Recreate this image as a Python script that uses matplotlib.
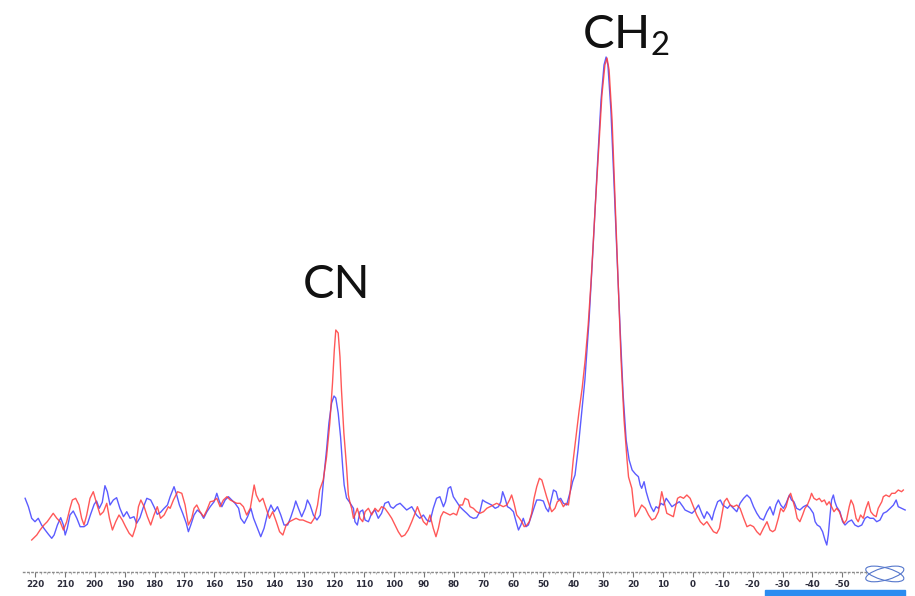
import matplotlib
matplotlib.use("Agg")
import matplotlib.pyplot as plt
from matplotlib.patches import Ellipse, Rectangle

# ---- data (ppm, intensity in arbitrary units) ----
blue_ppm = [223.3, 222.2, 221.1, 220.0, 218.9, 217.8, 216.6, 215.5, 214.4, 213.6, 212.5, 211.4, 210.5, 209.9, 209.2,
            208.3, 207.2, 206.0, 204.9, 203.6, 202.5, 201.4, 200.2, 199.4, 198.5, 197.5, 196.6, 195.8, 194.9, 193.8,
            192.7, 191.6, 190.4, 189.3, 188.2, 186.9, 186.0, 184.9, 183.7, 182.6, 181.3, 180.2, 179.1, 178.0, 176.8,
            175.7, 174.8, 173.5, 172.6, 171.7, 170.6, 169.4, 168.7, 167.9, 166.8, 165.7, 164.5, 163.6, 162.5, 161.4,
            160.1, 159.2, 158.3, 157.5, 156.4, 155.3, 154.2, 153.1, 151.9, 151.2, 150.0, 148.9, 147.8, 146.9, 145.6,
            144.5, 143.4, 142.2, 141.1, 140.0, 138.9, 137.8, 136.7, 135.5, 134.4, 133.3, 132.8, 131.9, 130.8, 129.6,
            128.9, 128.0, 126.9, 125.7, 124.6, 124.2, 123.4, 122.5, 121.7, 120.8, 120.0, 119.4, 118.6, 117.8, 117.1,
            116.6, 115.8, 114.9, 113.5, 113.0, 112.2, 111.3, 110.4, 109.6, 108.5, 107.4, 106.3, 105.2, 104.1, 103.0,
            101.8, 101.1, 100.2, 99.1, 97.9, 96.8, 95.7, 94.0, 92.4, 91.3, 90.1, 89.0, 87.9, 86.8, 85.7,
            84.6, 83.4, 82.7, 81.8, 81.0, 80.1, 79.0, 77.9, 76.8, 75.6, 74.5, 73.4, 72.3, 71.2, 70.3,
            69.5, 68.4, 67.3, 66.1, 65.0, 64.2, 63.6, 62.8, 62.0, 61.1, 60.0, 59.1, 58.3, 57.5, 56.7,
            55.8, 55.0, 53.9, 52.8, 52.2, 51.1, 50.0, 49.1, 48.3, 47.5, 46.6, 45.7, 45.0, 44.2, 43.3,
            42.2, 41.3, 40.7, 40.2, 39.4, 38.4, 37.4, 36.1, 34.7, 33.4, 32.0, 30.7, 29.7, 29.0, 28.4,
            27.4, 26.4, 25.3, 24.3, 23.3, 22.3, 21.3, 20.3, 19.2, 18.2, 17.6, 17.1, 16.3, 15.6, 14.8,
            14.0, 13.1, 12.3, 11.5, 10.7, 9.8, 8.9, 8.1, 7.0, 6.2, 5.3, 4.5, 3.3, 2.6, 1.4,
            0.3, -0.8, -1.9, -3.0, -3.8, -4.7, -5.6, -6.4, -7.1, -8.3, -9.2, -10.0, -10.8, -11.6, -12.5,
            -13.6, -14.7, -15.8, -17.0, -18.1, -19.2, -20.3, -21.4, -22.5, -23.6, -24.8, -25.8, -26.9, -27.8, -28.6,
            -29.4, -30.3, -31.2, -32.3, -33.0, -33.8, -34.7, -35.8, -37.0, -38.1, -39.2, -40.3, -40.9, -41.6, -42.5,
            -43.4, -44.2, -44.8, -45.3, -45.9, -46.4, -47.0, -47.5, -48.1, -49.2, -50.1, -50.9, -52.0, -53.1, -54.2,
            -55.3, -56.5, -57.6, -58.4, -59.3, -60.4, -61.5, -62.6, -63.7, -64.8, -66.0, -67.1, -68.0, -68.7, -69.8,
            -71.0]
blue_int = [61.7, 53.3, 41.7, 38.3, 41.7, 35, 30, 25.7, 21.7, 25, 35, 42.3, 35, 25, 31.7,
            45, 49, 41.7, 33.3, 33.3, 35.7, 45.7, 55.7, 59, 51.7, 57.7, 74.3, 68.3, 55, 60,
            62.3, 51.7, 43.3, 48.3, 41.7, 43.3, 36.7, 42.3, 53.3, 61.7, 60, 53.3, 45.7, 47.7, 51.7,
            55, 63.3, 73.3, 65, 55, 46.7, 36.7, 28.3, 35, 45, 50, 46.7, 41.7, 48.3, 53.3,
            58.3, 66.7, 58.3, 53.3, 60, 63.3, 60, 56.7, 51.7, 41.7, 36.7, 43.3, 51.7, 41.7, 31.7,
            23.3, 31.7, 46.7, 55, 48.3, 53.3, 45, 35, 35, 43.3, 53.3, 59, 51.7, 43.3, 51.7,
            60, 55, 45, 40, 45, 56.7, 83.3, 110, 137, 157, 164, 162, 147, 123, 93,
            75, 62, 58.3, 51.7, 38.3, 35, 48.3, 50, 40, 38.3, 46.7, 50, 41.7, 46.7, 56.7,
            58.3, 53.3, 51.7, 55, 56.7, 53.3, 50, 53.3, 45, 41.7, 45, 40, 38.3, 51.7, 61.7,
            63.3, 53.3, 58.3, 71.7, 73.3, 63.3, 58.3, 53.3, 50, 46.7, 43.3, 41.7, 42.3, 48.3, 60,
            58.3, 56.7, 55, 51.7, 53.3, 58.3, 68.3, 61.7, 53.3, 51.7, 48.3, 38.3, 30, 35, 41.7,
            33.3, 35, 45, 55, 60, 60, 59, 51.7, 48.3, 58.3, 70, 68.3, 60, 61.7, 56.7,
            55, 65, 71.7, 78.3, 85, 110, 140, 180, 240, 310, 390, 460, 495, 503, 495,
            450, 380, 300, 230, 165, 120, 100, 90, 86, 83.3, 75, 71.7, 78.3, 68.3, 60,
            53.3, 48.3, 53.3, 51.7, 56.7, 55, 61.7, 58.3, 53.3, 55, 56.7, 58.3, 53.3, 50, 48.3,
            46.7, 50, 55, 46.7, 41.7, 48.3, 45, 40, 48.3, 58.3, 60, 55, 53.3, 51.7, 55,
            51.7, 48.3, 56.7, 61.7, 65, 61.7, 53.3, 46.7, 41.7, 40, 48.3, 53.3, 45, 55, 60,
            55, 51.7, 56.7, 65, 60, 58.3, 51.7, 50, 53.3, 55, 51.7, 46.7, 38.3, 35, 33.3,
            28.3, 20, 15, 25, 45, 60, 65, 58.3, 53.3, 48.3, 38.3, 35, 38.3, 40, 35,
            33.3, 35, 41.7, 43.3, 41.7, 41.7, 38.3, 40, 46.7, 48.3, 51.7, 55, 60, 53.3, 51.7,
            50]

red_ppm = [221.1, 219.4, 218.3, 217.0, 215.9, 214.7, 213.9, 212.7, 211.6, 210.5, 209.4, 208.3, 207.5, 206.4, 205.3,
           204.4, 203.6, 202.7, 201.6, 200.5, 199.4, 198.2, 197.1, 196.0, 195.1, 194.1, 193.0, 191.9, 190.8, 189.7,
           188.5, 187.4, 186.3, 185.4, 184.6, 183.5, 182.4, 181.3, 180.2, 179.1, 178.0, 176.8, 175.4, 174.8, 173.7,
           172.3, 170.9, 169.8, 168.7, 167.6, 166.8, 165.9, 164.8, 163.6, 162.5, 161.4, 160.3, 159.2, 158.1, 157.0,
           155.8, 154.7, 153.6, 152.5, 151.4, 150.3, 149.2, 148.0, 147.1, 146.7, 146.0, 144.9, 143.8, 142.7, 141.6,
           140.5, 139.3, 138.2, 137.1, 136.0, 134.9, 133.8, 132.7, 131.5, 130.4, 129.1, 127.7, 126.6, 125.5, 124.8,
           123.6, 122.5, 121.4, 120.5, 119.9, 119.4, 118.6, 118.0, 117.5, 116.7, 115.8, 115.2, 114.7, 114.1, 113.5,
           113.0, 112.2, 111.3, 110.4, 109.6, 108.5, 107.4, 106.3, 105.2, 104.1, 103.0, 101.8, 100.7, 99.6, 98.5,
           97.4, 96.3, 95.2, 94.0, 92.9, 92.1, 91.3, 90.1, 89.0, 87.9, 86.8, 85.9, 85.1, 84.3, 83.4,
           82.3, 81.2, 80.1, 79.0, 77.9, 77.0, 76.2, 75.1, 74.5, 73.4, 72.3, 71.2, 70.0, 68.9, 67.8,
           66.7, 65.6, 64.5, 63.4, 62.2, 61.3, 60.6, 59.8, 58.9, 58.0, 57.2, 56.4, 55.5, 54.7, 53.9,
           53.1, 52.2, 51.3, 50.5, 49.7, 48.9, 48.0, 47.2, 46.1, 45.3, 44.4, 43.3, 42.4, 41.6, 41.0,
           40.7, 40.0, 39.0, 38.0, 37.0, 36.0, 35.0, 34.0, 32.7, 31.3, 30.4, 29.4, 28.7, 28.0, 27.0,
           26.0, 25.0, 24.0, 23.0, 22.0, 21.5, 20.4, 19.8, 19.3, 18.2, 17.1, 15.9, 14.8, 13.7, 12.6,
           11.5, 10.4, 9.6, 8.7, 7.6, 6.5, 5.9, 5.1, 4.2, 3.1, 2.0, 0.9, -0.2, -1.3, -2.5,
           -3.6, -4.7, -5.8, -6.9, -8.0, -8.9, -9.7, -10.5, -11.4, -12.5, -13.6, -14.7, -15.8, -17.0, -18.1,
           -19.2, -20.3, -21.4, -22.5, -23.6, -24.8, -25.8, -26.7, -27.5, -28.6, -29.4, -30.3, -31.2, -31.9, -32.7,
           -33.4, -34.2, -34.9, -35.8, -36.7, -37.5, -38.3, -39.2, -39.7, -40.5, -41.4, -42.3, -43.1, -44.0, -44.8,
           -45.6, -46.4, -47.2, -48.1, -49.0, -49.8, -50.6, -51.4, -52.3, -52.9, -53.7, -54.6, -55.3, -56.1, -57.0,
           -57.9, -58.7, -59.5, -60.4, -61.3, -62.0, -63.2, -63.7, -64.6, -65.7, -66.5, -67.6, -68.7, -69.8, -70.4]
red_int = [20, 25, 30, 35, 38.3, 43.3, 46.7, 41.7, 38.3, 30, 38.3, 51.7, 60, 61.7, 55,
           41.7, 35, 45, 61.7, 68.3, 56.7, 45, 48.3, 56.7, 41.7, 30, 38.3, 45, 40, 33.3,
           26.7, 23.3, 33.3, 53.3, 60, 53.3, 43.3, 35, 45, 53.3, 41.7, 45, 53.3, 51.7, 60,
           68.3, 66.7, 55, 35, 41.7, 51.7, 55, 48.3, 43.3, 50, 58.3, 59, 61.7, 53.3, 60,
           63.3, 60, 58.3, 56.7, 56.7, 53.3, 45, 51.7, 68.3, 75, 65, 58.3, 61.7, 51.7, 41.7,
           48.3, 38.3, 28.3, 25, 35, 38.3, 40, 41.7, 40, 40, 38.3, 36.7, 41.7, 55, 70,
           80, 103, 137, 177, 210, 230, 227, 203, 170, 127, 93, 65, 58, 51.7, 41.7,
           45, 51.7, 41.7, 38.3, 48.3, 51.7, 45, 51.7, 48.3, 53.3, 51.7, 46.7, 41.7, 35, 28.3,
           23.3, 25, 30, 38.3, 46.7, 53.3, 46.7, 38.3, 35, 45, 31.7, 23.3, 31.7, 43.3, 48.3,
           46.7, 45, 46.7, 45, 55, 55, 61.7, 60, 53.3, 51.7, 48.3, 46.7, 48.3, 51.7, 53.3,
           55, 56.7, 55, 53.3, 55, 60, 65, 56.7, 45, 41.7, 38.3, 33.3, 35, 38.3, 46.7,
           61.7, 73.3, 81.7, 80, 71.7, 63.3, 55, 48.3, 51.7, 58.3, 60, 53.3, 56.7, 55, 68.3,
           78, 100, 125, 150, 172, 200, 235, 280, 350, 420, 465, 495, 502, 490, 440,
           360, 280, 200, 140, 100, 83, 71.7, 55, 43.3, 48.3, 55, 51.7, 45, 40, 41.7,
           48.3, 68.3, 58.3, 46.7, 45, 43.3, 51.7, 61.7, 63.3, 61.7, 65, 61.7, 53.3, 45, 38.3,
           35, 38.3, 33.3, 28.3, 26.7, 31.7, 45, 58.3, 61.7, 55, 53.3, 55, 51.7, 41.7, 33.3,
           35, 33.3, 28.3, 25, 31.7, 38.3, 30, 28.3, 30, 41.7, 51.7, 48.3, 53.3, 61.7, 66.7,
           60, 51.7, 41.7, 38.3, 45, 51.7, 55, 61.7, 66.7, 61.7, 60, 61.7, 58.3, 60, 55,
           58.3, 53.3, 48.3, 51.7, 48.3, 41.7, 36.7, 40, 53.3, 60, 55, 41.7, 38.3, 45, 41.7,
           51.7, 58.3, 48.3, 45, 43.3, 51.7, 58.3, 63.3, 65, 63.3, 66.7, 66.7, 70, 68.3, 70]

tick_values = [220, 210, 200, 190, 180, 170, 160, 150, 140, 130, 120, 110, 100, 90, 80,
               70, 60, 50, 40, 30, 20, 10, 0, -10, -20, -30, -40, -50]
peak_labels = ["CN", "CH$_2$"]
peak_label_pos = [(119.0, 262), (36.9, 511)]

# ---- figure ----
plt.rcParams['mathtext.fontset'] = 'custom'
plt.rcParams['mathtext.rm'] = 'Lato'
plt.rcParams['mathtext.it'] = 'Lato'

fig = plt.figure(figsize=(9.15, 5.96), dpi=100)
ax = fig.add_axes([0, 0, 1, 1])
ax.set_xlim(231.7, -74.3)
ax.set_ylim(-36, 560)

ax.plot(red_ppm, red_int, color='#ff3b3b', lw=1.0, alpha=0.85, zorder=3)
ax.plot(blue_ppm, blue_int, color='#3f3fff', lw=1.0, alpha=0.85, zorder=2)

# x axis drawn as dotted baseline with ticks
for s in ['top', 'right', 'left']:
    ax.spines[s].set_visible(False)
ax.spines['bottom'].set_position(('data', -12))
ax.spines['bottom'].set_bounds(224, -58)
ax.spines['bottom'].set_linestyle((0, (1, 2)))
ax.spines['bottom'].set_color('#8a8a8a')
ax.spines['bottom'].set_linewidth(1.0)
ax.set_yticks([])
ax.set_xticks(tick_values)
ax.set_xticklabels([str(v) for v in tick_values])
ax.set_xticks([v for v in range(-58, 224, 2) if v % 10 != 0], minor=True)
ax.tick_params(axis='x', which='major', direction='out', length=3.5, width=0.8,
               color='#777777', labelsize=6.3, labelcolor='#2b2b3a', pad=2)
ax.tick_params(axis='x', which='minor', direction='out', length=1.5, width=0.6, color='#aaaaaa')
for lab in ax.get_xticklabels():
    lab.set_fontweight('bold')

for txt, (px, py) in zip(peak_labels, peak_label_pos):
    ax.text(px, py, txt, fontsize=34, family='Lato', color='#111111',
            ha='center' if txt == 'CN' else 'left', va='baseline', zorder=5)

# small logo and blue bar at bottom right
for ang in (25, -25):
    ax.add_patch(Ellipse((0.967, 0.037), 0.045, 0.02, angle=ang, transform=ax.transAxes,
                         fill=False, ec='#5577cc', lw=0.8, clip_on=False))
fig.patches.append(Rectangle((765 / 915, 0), 140 / 915, 6 / 596, transform=fig.transFigure,
                             color='#2b8cf0', zorder=1))

fig.savefig('out.png', dpi=100)
